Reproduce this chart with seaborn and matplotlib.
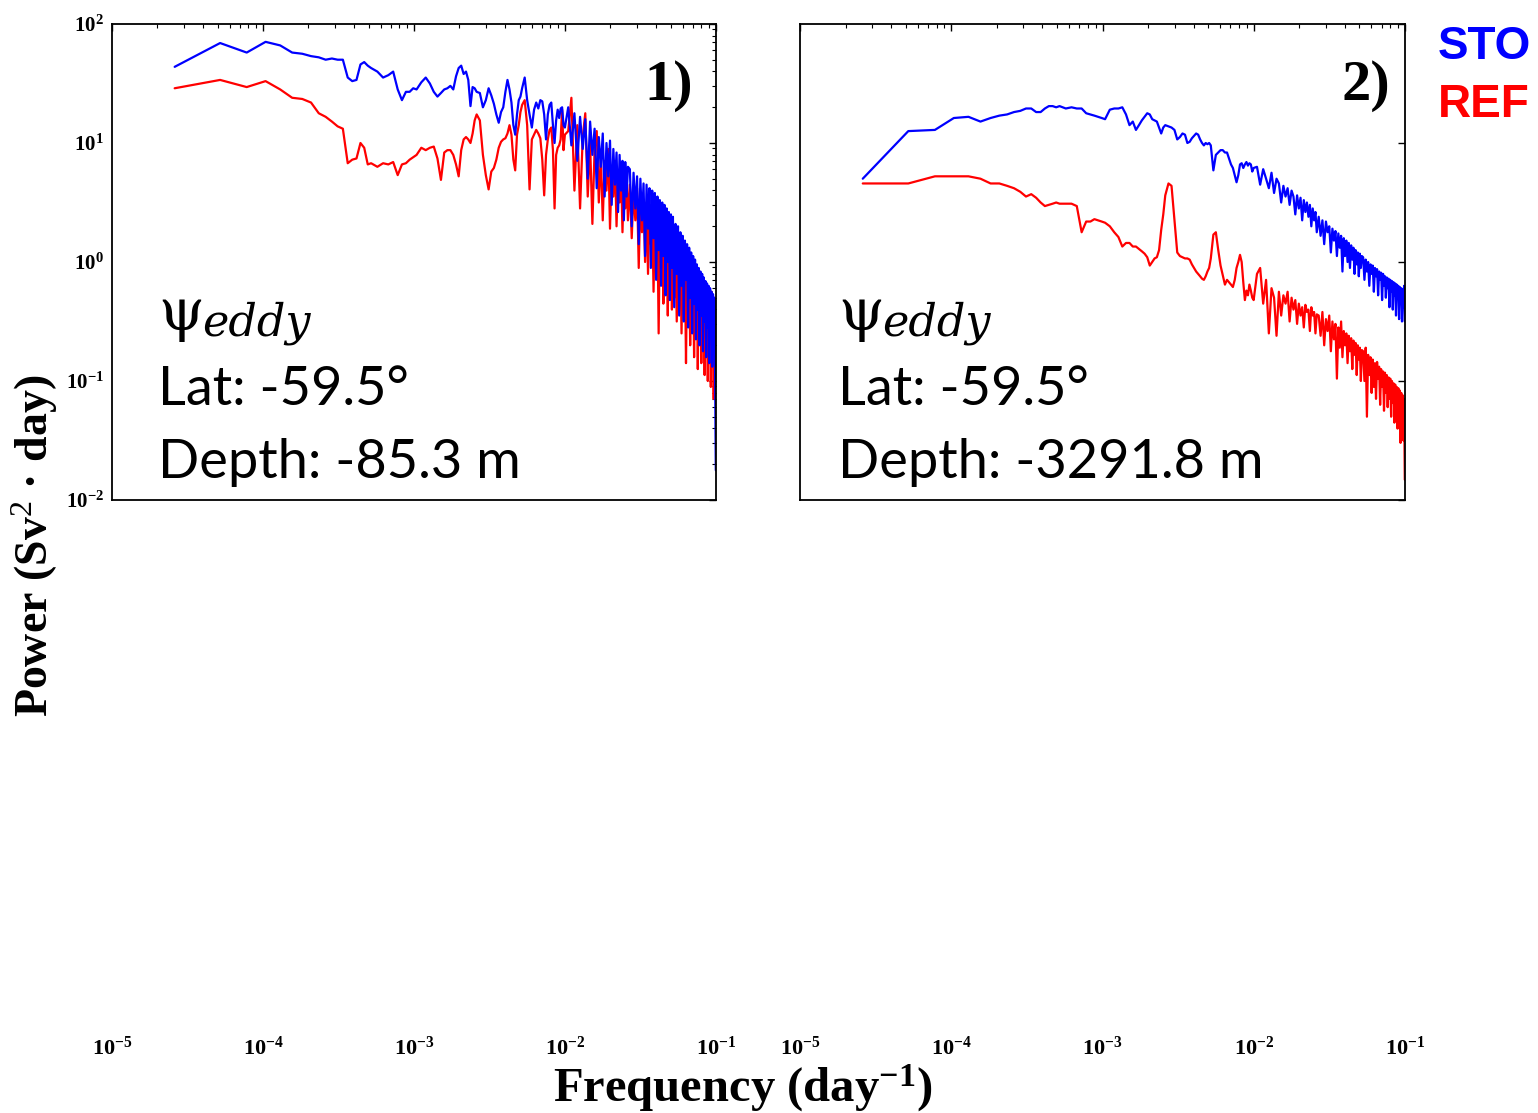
import numpy as np
import matplotlib
matplotlib.use("Agg")
import matplotlib.pyplot as plt
from matplotlib.ticker import LogLocator, NullLocator, FuncFormatter
import seaborn as sns

# ---------------- data ----------------
BASE_FREQ = 2.6e-5  # day^-1, fundamental frequency of the spectra

HARMONIC = [1, 2, 3, 4, 5, 6, 7, 8, 9, 10, 11, 12, 13, 14, 15, 16, 17, 18, 19, 20,
            22, 24, 26, 28, 30, 32, 34, 36, 38, 40,
            43, 46, 49, 52, 55, 58, 61, 64, 67, 70, 73, 76, 79, 82, 85, 88, 91, 94, 97, 100,
            105, 110, 115, 120, 125, 130, 135, 140, 145, 150, 155, 160, 165, 170, 175, 180, 185, 190, 195, 200,
            208, 216, 224, 232, 240, 248, 256, 264, 272, 280, 288, 296, 304, 312, 320, 328, 336, 344, 352, 360, 368, 376, 384,
            404, 424, 444, 464, 484, 504, 524, 544, 564, 584, 604, 624, 644, 664, 684, 704, 724, 744, 764, 784,
            804, 824, 844, 864, 884, 904, 924, 944, 964, 984, 1004,
            1034, 1064, 1094, 1124, 1154, 1184, 1214, 1244, 1274, 1304, 1334, 1364, 1394, 1424, 1454, 1484, 1514,
            1544, 1574, 1604, 1634, 1664, 1694, 1724, 1754, 1784, 1814, 1844, 1874, 1904, 1934, 1964, 1994,
            2034, 2074, 2114, 2154, 2194, 2234, 2274, 2314, 2354, 2394, 2434, 2474, 2514, 2554, 2594, 2634,
            2674, 2714, 2754, 2794, 2834, 2874, 2914, 2954, 2994, 3034, 3074, 3114, 3154, 3194, 3234, 3274,
            3314, 3354, 3394, 3434, 3474, 3514, 3554, 3594, 3634, 3674, 3714, 3754, 3794, 3834]

# log10 of power (Sv^2 day), panel 1 (depth -85.3 m)
STO1_LOG10P = [1.64, 1.84, 1.76, 1.85, 1.82, 1.76, 1.75, 1.73, 1.72, 1.70, 1.71, 1.70, 1.70, 1.55, 1.52, 1.53, 1.66, 1.68, 1.65, 1.63,
               1.60, 1.55, 1.57, 1.60, 1.45, 1.36, 1.43, 1.43, 1.46, 1.45,
               1.51, 1.55, 1.50, 1.43, 1.39, 1.42, 1.45, 1.46, 1.48, 1.45, 1.56, 1.63, 1.65, 1.58, 1.60, 1.53, 1.31, 1.47, 1.46, 1.43,
               1.42, 1.30, 1.36, 1.46, 1.40, 1.33, 1.24, 1.17, 1.26, 1.30, 1.43, 1.53, 1.45, 1.34, 1.15, 1.07, 1.24, 1.36, 1.39, 1.46,
               1.55, 1.36, 1.24, 1.13, 1.28, 1.34, 1.29, 1.36, 1.35, 1.24, 1.03, 1.24, 1.32, 1.34, 1.15, 1.00, 1.19, 1.28, 1.21, 1.29, 1.30, 1.15, 1.13,
               1.30, 0.98, 1.25, 0.85, 1.22, 0.95, 1.20, 0.70, 1.18, 0.90, 1.12, 0.62, 1.05, 0.80, 1.08, 0.55, 1.00, 0.72, 1.02, 0.48,
               0.95, 0.65, 0.92, 0.42, 0.90, 0.60, 0.85, 0.35, 0.84, 0.55, 0.80,
               0.78, 0.30, 0.75, 0.45, 0.72, 0.15, 0.70, 0.35, 0.66, 0.05, 0.65, 0.28, 0.62, -0.05, 0.60, 0.20, 0.58,
               -0.15, 0.55, 0.10, 0.52, -0.20, 0.50, 0.05, 0.48, -0.28, 0.45, 0.00, 0.42, -0.32, 0.40, -0.05, 0.38,
               -0.38, 0.32, -0.10, 0.30, -0.45, 0.25, -0.20, 0.22, -0.50, 0.18, -0.15, 0.15, -0.55, 0.12, -0.30, 0.08,
               -0.60, 0.05, -0.35, 0.02, -0.65, -0.02, -0.40, -0.05, -0.70, -0.08, -0.45, -0.10, -0.75, -0.13, -0.50, -0.16,
               -0.80, -0.18, -0.55, -0.20, -0.85, -0.22, -0.60, -0.25, -0.88, -0.27, -0.65, -0.30, -0.92, -1.75]

REF1_LOG10P = [1.46, 1.53, 1.47, 1.52, 1.45, 1.38, 1.37, 1.34, 1.25, 1.22, 1.18, 1.14, 1.12, 0.83, 0.86, 0.87, 1.00, 0.96, 0.82, 0.83,
               0.80, 0.83, 0.82, 0.84, 0.73, 0.82, 0.83, 0.86, 0.88, 0.90,
               0.96, 0.94, 0.96, 0.97, 0.87, 0.69, 0.92, 0.94, 0.94, 0.90, 0.82, 0.72, 0.94, 1.03, 1.05, 1.03, 1.00, 1.08, 1.19, 1.24,
               1.19, 0.90, 0.73, 0.61, 0.76, 0.79, 0.86, 0.96, 1.01, 1.03, 1.04, 1.08, 1.15, 1.07, 0.86, 0.77, 1.07, 1.15, 1.26, 1.32,
               1.36, 1.15, 0.61, 1.03, 1.07, 1.11, 1.08, 1.04, 0.86, 0.56, 0.90, 1.03, 1.11, 1.13, 0.94, 0.45, 0.90, 0.96, 0.98, 1.03, 1.28, 0.94, 1.07,
               1.10, 1.38, 0.60, 1.15, 0.45, 1.05, 1.25, 0.55, 1.00, 0.32, 0.95, 1.10, 0.50, 0.90, 0.35, 0.85, 0.60, 0.95, 0.28, 0.80,
               0.55, 0.85, 0.30, 0.75, 0.50, 0.78, 0.25, 0.70, 0.45, 0.72, 0.35,
               0.65, 0.20, 0.60, 0.35, 0.62, -0.05, 0.55, 0.25, 0.52, 0.00, 0.50, -0.10, 0.45, 0.15, 0.42, -0.25, 0.40,
               0.05, 0.35, -0.60, 0.30, -0.15, 0.32, -0.35, 0.25, -0.05, 0.22, -0.45, 0.20, -0.20, 0.18, -0.40, 0.15,
               -0.30, 0.12, -0.50, 0.10, -0.20, 0.05, -0.60, 0.02, -0.35, 0.00, -0.85, -0.05, -0.45, -0.05, -0.70, -0.08,
               -0.40, -0.10, -0.80, -0.12, -0.55, -0.15, -0.90, -0.15, -0.60, -0.18, -0.85, -0.20, -0.65, -0.22, -0.95, -0.20,
               -0.70, -0.25, -1.00, -0.22, -0.80, -0.28, -1.05, -0.25, -0.85, -0.30, -1.15, -0.35, -0.95, -1.10]

# panel 2 (depth -3291.8 m)
STO2_LOG10P = [0.70, 1.10, 1.11, 1.21, 1.22, 1.18, 1.21, 1.23, 1.24, 1.26, 1.27, 1.29, 1.29, 1.26, 1.26, 1.29, 1.31, 1.31, 1.30, 1.31,
               1.29, 1.30, 1.29, 1.29, 1.25, 1.24, 1.23, 1.22, 1.21, 1.20,
               1.28, 1.29, 1.29, 1.30, 1.24, 1.15, 1.18, 1.11, 1.15, 1.19, 1.22, 1.25, 1.24, 1.20, 1.19, 1.18, 1.13, 1.08, 1.13, 1.15,
               1.14, 1.13, 1.11, 1.03, 1.05, 1.08, 1.07, 1.00, 1.01, 1.04, 1.06, 1.08, 1.07, 1.03, 1.00, 0.98, 1.00, 0.99, 1.00, 0.98,
               0.77, 0.90, 0.92, 0.94, 0.94, 0.92, 0.92, 0.87, 0.82, 0.79, 0.73, 0.67, 0.73, 0.82, 0.83, 0.79, 0.82, 0.84, 0.81, 0.83, 0.82, 0.76, 0.79,
               0.80, 0.65, 0.78, 0.70, 0.62, 0.75, 0.58, 0.70, 0.66, 0.50, 0.64, 0.55, 0.62, 0.48, 0.60, 0.55, 0.40, 0.56, 0.45, 0.54,
               0.35, 0.52, 0.42, 0.50, 0.38, 0.48, 0.30, 0.45, 0.35, 0.42, 0.25,
               0.38, 0.22, 0.35, 0.15, 0.34, 0.25, 0.30, 0.08, 0.28, 0.18, 0.26, 0.05, 0.24, 0.12, 0.22, -0.08, 0.20,
               0.05, 0.18, 0.00, 0.16, -0.05, 0.14, 0.02, 0.12, -0.10, 0.10, -0.02, 0.08, -0.12, 0.07, -0.05, 0.05,
               0.04, -0.15, 0.02, -0.08, 0.00, -0.20, -0.02, -0.10, -0.03, -0.25, -0.05, -0.12, -0.06, -0.28, -0.08, -0.15,
               -0.09, -0.32, -0.10, -0.20, -0.12, -0.30, -0.13, -0.22, -0.14, -0.38, -0.15, -0.25, -0.16, -0.40, -0.17, -0.28,
               -0.18, -0.45, -0.19, -0.30, -0.20, -0.48, -0.21, -0.33, -0.22, -0.50, -0.23, -0.38, -0.20, -0.50]

REF2_LOG10P = [0.66, 0.66, 0.72, 0.72, 0.72, 0.70, 0.66, 0.66, 0.64, 0.62, 0.59, 0.55, 0.57, 0.54, 0.50, 0.47, 0.48, 0.49, 0.50, 0.49,
               0.49, 0.49, 0.47, 0.25, 0.34, 0.34, 0.36, 0.35, 0.34, 0.33,
               0.30, 0.25, 0.21, 0.13, 0.16, 0.16, 0.13, 0.13, 0.11, 0.09, 0.07, 0.04, -0.03, 0.00, 0.03, 0.04, 0.10, 0.27, 0.40, 0.56,
               0.66, 0.64, 0.35, 0.08, 0.05, 0.04, 0.03, 0.03, 0.02, -0.02, -0.05, -0.08, -0.10, -0.12, -0.14, -0.15, -0.12, -0.08, -0.05, 0.03,
               0.23, 0.25, 0.10, -0.03, -0.11, -0.19, -0.15, -0.17, -0.19, -0.21, -0.15, -0.05, 0.00, 0.06, 0.00, -0.17, -0.32, -0.24, -0.28, -0.19, -0.24, -0.30, -0.32,
               -0.10, -0.05, -0.35, -0.15, -0.60, -0.22, -0.30, -0.62, -0.25, -0.45, -0.28, -0.35, -0.25, -0.50, -0.30, -0.40, -0.32, -0.52, -0.35, -0.45,
               -0.38, -0.55, -0.36, -0.42, -0.40, -0.58, -0.38, -0.45, -0.42, -0.60, -0.44,
               -0.45, -0.62, -0.42, -0.70, -0.48, -0.58, -0.45, -0.75, -0.50, -0.65, -0.52, -0.98, -0.55, -0.72, -0.50, -0.80, -0.58,
               -0.70, -0.60, -0.85, -0.62, -0.75, -0.64, -0.90, -0.66, -0.78, -0.68, -0.95, -0.70, -0.82, -0.72, -1.00, -0.74,
               -0.75, -1.00, -0.72, -1.30, -0.78, -0.95, -0.80, -1.10, -0.82, -1.05, -0.85, -1.15, -0.84, -0.98, -0.88, -1.20,
               -0.90, -1.05, -0.92, -1.25, -0.93, -1.10, -0.95, -1.22, -0.97, -1.15, -0.98, -1.30, -1.00, -1.18, -1.02, -1.35,
               -1.03, -1.22, -1.05, -1.40, -1.06, -1.30, -1.08, -1.52, -1.10, -1.35, -1.12, -1.50, -1.15, -1.83]

PANEL_LABELS = ["1)", "2)"]
DEPTHS = ["Depth: -85.3 m", "Depth: -3291.8 m"]
LAT = "Lat: -59.5\u00b0"
SERIES_NAMES = ["STO", "REF"]
SERIES_COLORS = ["#0000FF", "#FF0000"]

# ---------------- figure ----------------
sns.set_theme(style="white")
plt.rcParams["font.family"] = ["Liberation Serif", "DejaVu Serif"]
plt.rcParams["mathtext.fontset"] = "custom"
plt.rcParams["mathtext.rm"] = "Liberation Serif"
plt.rcParams["mathtext.it"] = "Liberation Serif:italic"
plt.rcParams["mathtext.bf"] = "Liberation Serif:bold"
for key in ["text.color", "axes.labelcolor", "xtick.color", "ytick.color", "axes.edgecolor"]:
    plt.rcParams[key] = "black"

W, H = 1538, 1113
fig = plt.figure(figsize=(W / 100, H / 100), dpi=100)
ax1 = fig.add_axes([112 / W, 1 - 500 / H, 604 / W, 476 / H])
ax2 = fig.add_axes([800 / W, 1 - 500 / H, 605 / W, 476 / H])

freq = np.array(HARMONIC) * BASE_FREQ
panels = [(ax1, STO1_LOG10P, REF1_LOG10P), (ax2, STO2_LOG10P, REF2_LOG10P)]

fmt = FuncFormatter(lambda v, p: r"$\mathbf{10^{%d}}$" % int(round(np.log10(v))))

for i, (ax, sto, ref) in enumerate(panels):
    ax.set_xscale("log")
    ax.set_yscale("log")
    sns.lineplot(x=freq, y=10 ** np.array(ref), ax=ax, color=SERIES_COLORS[1],
                 linewidth=1.6, estimator=None)
    sns.lineplot(x=freq, y=10 ** np.array(sto), ax=ax, color=SERIES_COLORS[0],
                 linewidth=1.6, estimator=None)
    ax.set_xlim(1e-5, 1e-1)
    ax.set_ylim(1e-2, 1e2)
    ax.set_xlabel("")
    ax.set_ylabel("")
    ax.xaxis.set_major_locator(LogLocator(base=10, numticks=10))
    ax.xaxis.set_minor_locator(LogLocator(base=10, subs=np.arange(2, 10), numticks=20))
    ax.yaxis.set_major_locator(LogLocator(base=10, numticks=10))
    ax.yaxis.set_minor_locator(LogLocator(base=10, subs=np.arange(2, 10), numticks=20))
    ax.xaxis.set_major_formatter(fmt)
    ax.yaxis.set_major_formatter(fmt)
    ax.tick_params(which="both", direction="in", top=True, right=True, color="black")
    ax.tick_params(which="major", length=5, width=1.0)
    ax.tick_params(which="minor", length=3, width=0.8)
    ax.tick_params(axis="x", which="major", pad=386, labelsize=16, labelcolor="black")
    ax.tick_params(axis="y", which="major", pad=6, labelsize=15, labelcolor="black")
    for s in ax.spines.values():
        s.set_linewidth(1.3)
        s.set_color("black")
    ax.grid(False)
    ax.set_facecolor("white")

ax2.yaxis.set_minor_locator(NullLocator())
ax2.tick_params(axis="y", labelleft=False)

# panel annotations
for i, x0 in enumerate([158, 838]):
    fig.text(x0 / W, 1 - 330 / H, "\u03c8", fontsize=42, family="DejaVu Serif", color="black")
    fig.text((x0 + 44) / W, 1 - 336 / H, "eddy", fontsize=32, family="DejaVu Serif",
             style="italic", color="black")
    fig.text(x0 / W, 1 - 405 / H, LAT, fontsize=39, family="Lato", color="black")
    fig.text(x0 / W, 1 - 478 / H, DEPTHS[i], fontsize=39, family="Lato", color="black")

fig.text(693 / W, 1 - 100 / H, PANEL_LABELS[0], fontsize=42, fontweight="bold",
         family="Liberation Serif", ha="right", va="baseline", color="black")
fig.text(1390 / W, 1 - 100 / H, PANEL_LABELS[1], fontsize=42, fontweight="bold",
         family="Liberation Serif", ha="right", va="baseline", color="black")

# legend as coloured text
fig.text(1438 / W, 1 - 59 / H, SERIES_NAMES[0], fontsize=33, fontweight="bold",
         family="Liberation Sans", color=SERIES_COLORS[0], va="baseline")
fig.text(1438 / W, 1 - 117 / H, SERIES_NAMES[1], fontsize=33, fontweight="bold",
         family="Liberation Sans", color=SERIES_COLORS[1], va="baseline")

# axis titles
fig.text(35 / W, 1 - 546 / H, "Power (Sv$^2$ \u00b7 day)", rotation=90, fontsize=33,
         fontweight="bold", family="Liberation Serif", ha="center", va="center", color="black")
fig.text(743 / W, 1 - 1088 / H, r"Frequency (day$^{\mathbf{-1}}$)", fontsize=35,
         fontweight="bold", family="Liberation Serif", ha="center", va="center", color="black")

fig.savefig("out.png", dpi=100, facecolor="white")
